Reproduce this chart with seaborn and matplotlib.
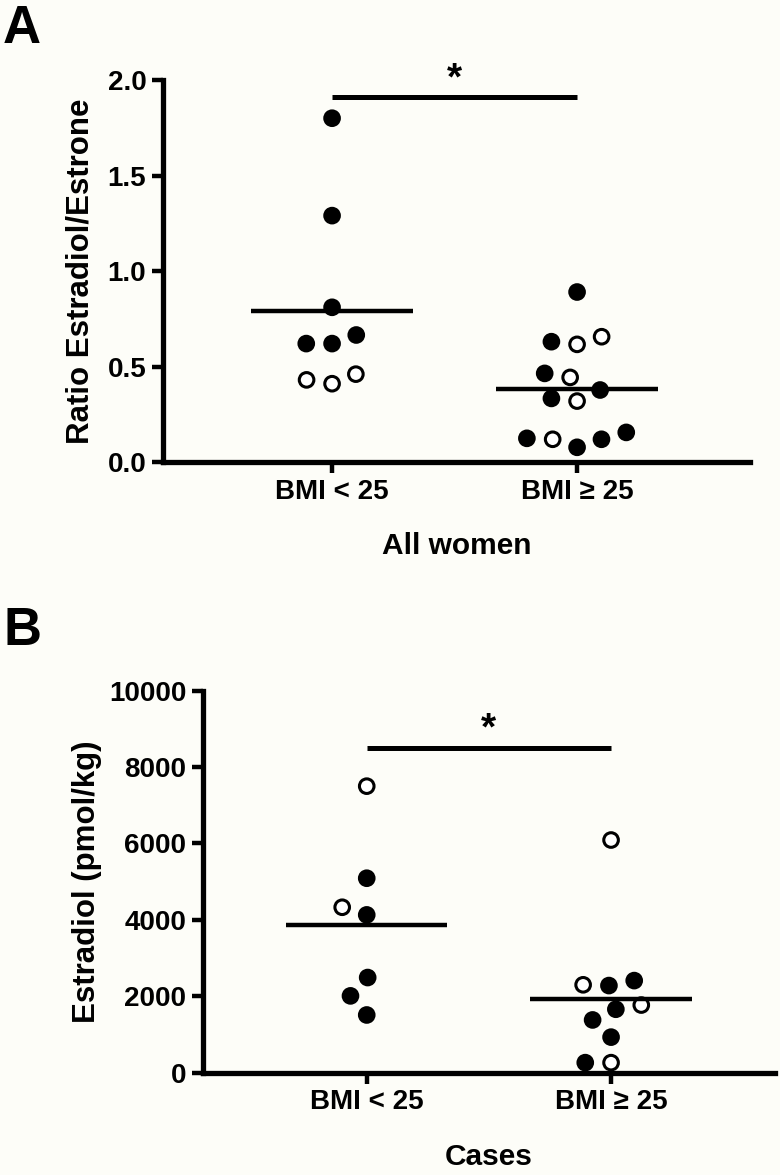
import numpy as np
import pandas as pd
import matplotlib
matplotlib.use("Agg")
import matplotlib.pyplot as plt
import seaborn as sns

# ---- data ----
groups = ["BMI < 25", "BMI \u2265 25"]

# panel A: ratio estradiol / estrone, all women
ratio_lean = [1.80, 1.29, 0.81, 0.62, 0.62, 0.665, 0.46, 0.41, 0.43]
ratio_lean_fill = ["filled"] * 6 + ["open"] * 3
ratio_over = [0.89, 0.63, 0.616, 0.656, 0.464, 0.443, 0.377, 0.333,
              0.319, 0.155, 0.119, 0.077, 0.119, 0.124]
ratio_over_fill = ["filled", "filled", "open", "open", "filled", "open", "filled",
                   "filled", "open", "filled", "open", "filled", "filled", "filled"]
ratio_sig = 1.91

# panel B: estradiol (pmol/kg), cases
e2_lean = [7500, 5090, 4330, 4130, 2490, 2010, 1510]
e2_lean_fill = ["open", "filled", "open", "filled", "filled", "filled", "filled"]
e2_over = [6090, 2300, 2280, 2410, 1770, 1660, 1380, 930, 262, 262]
e2_over_fill = ["open", "open", "filled", "filled", "open", "filled",
                "filled", "filled", "filled", "open"]
e2_sig = 8500

ratio_ticks = [0.0, 0.5, 1.0, 1.5, 2.0]
e2_ticks = [0, 2000, 4000, 6000, 8000, 10000]


def make_df(a, a_fill, b, b_fill):
    return pd.DataFrame({
        "group": [groups[0]] * len(a) + [groups[1]] * len(b),
        "value": a + b,
        "fill": a_fill + b_fill,
    })


df_a = make_df(ratio_lean, ratio_lean_fill, ratio_over, ratio_over_fill)
df_b = make_df(e2_lean, e2_lean_fill, e2_over, e2_over_fill)

sns.set_theme(style="ticks")
plt.rcParams["font.family"] = ["Liberation Sans", "DejaVu Sans"]
plt.rcParams["font.weight"] = "bold"
for k in ("text.color", "axes.labelcolor", "xtick.color", "ytick.color"):
    plt.rcParams[k] = "black"

bg = "#fdfdf8"
fig = plt.figure(figsize=(7.8, 11.75), dpi=100, facecolor=bg)
axA = fig.add_axes([0.209, 0.6068, 0.7526, 0.3251])
axB = fig.add_axes([0.2603, 0.0871, 0.7333, 0.3251])

palette = {"filled": "black", "open": "white"}
swarm_size = 15.5   # spacing used to lay out the swarm (GraphPad-like spread)
dot_size = 10.5     # size the dots are finally drawn at


def draw_panel(ax, df, ticks, ticklabels, sig_y, xlabel, ylabel, xlim, ypad):
    ax.set_facecolor(bg)
    sns.swarmplot(data=df, x="group", y="value", hue="fill", order=groups,
                  palette=palette, size=swarm_size, edgecolor="black",
                  linewidth=2.2, legend=False, ax=ax, zorder=3)
    # mean lines
    means = df.groupby("group", sort=False)["value"].mean()
    for i, g in enumerate(groups):
        ax.hlines(means[g], i - 0.33, i + 0.33, color="black", lw=3.2, zorder=4)
    # significance bar
    ax.plot([0, 1], [sig_y, sig_y], color="black", lw=3.6, solid_capstyle="butt")
    ax.annotate("*", (0.5, sig_y), xytext=(0, 0), textcoords="offset points",
                ha="center", va="bottom", fontsize=28, fontweight="bold")
    ax.set_xlim(*xlim)
    ax.set_ylim(ticks[0], ticks[-1])
    ax.set_yticks(ticks)
    ax.set_yticklabels(ticklabels)
    sns.despine(ax=ax)
    for s in ("left", "bottom"):
        ax.spines[s].set_linewidth(3.8)
        ax.spines[s].set_color("black")
    ax.tick_params(axis="both", length=8, width=3.2, color="black",
                   labelsize=20, pad=4)
    ax.set_xlabel(xlabel, fontsize=21.5, fontweight="bold", labelpad=20)
    ax.set_ylabel(ylabel, fontsize=22.5, fontweight="bold", labelpad=ypad)
    for lab in ax.get_xticklabels() + ax.get_yticklabels():
        lab.set_fontweight("bold")


draw_panel(axA, df_a, ratio_ticks, [f"{t:.1f}" for t in ratio_ticks], ratio_sig,
           "All women", "Ratio Estradiol/Estrone", (-0.69, 1.706), 9)
draw_panel(axB, df_b, e2_ticks, [str(t) for t in e2_ticks], e2_sig,
           "Cases", "Estradiol (pmol/kg)", (-0.67, 1.671), 5)

fig.text(0.004, 0.997, "A", fontsize=38, fontweight="bold", va="top", ha="left")
fig.text(0.004, 0.484, "B", fontsize=38, fontweight="bold", va="top", ha="left")

# lay the swarms out once with the wide spacing, then freeze and shrink the dots
fig.canvas.draw()
for ax in (axA, axB):
    for coll in ax.collections:
        if "draw" in coll.__dict__:
            del coll.draw
            coll.set_sizes([dot_size ** 2])

fig.savefig("out.png", dpi=100, facecolor=bg)
